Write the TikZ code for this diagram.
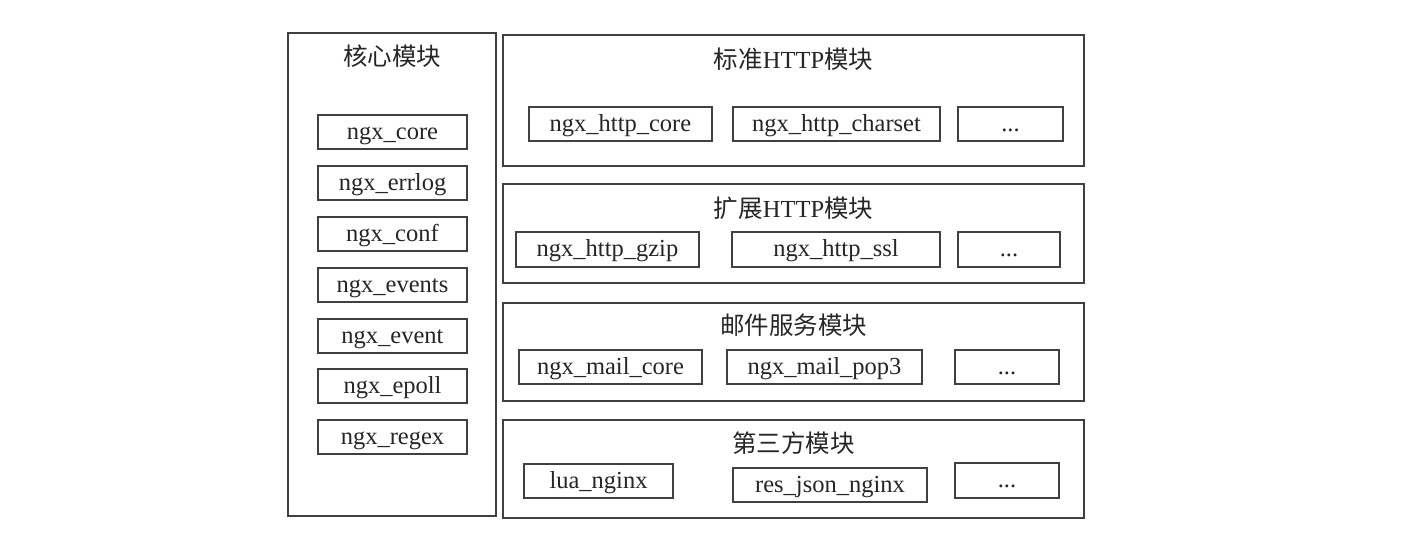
\documentclass[tikz,border=0pt]{standalone}
\usepackage{fontspec}
\setmainfont{Liberation Serif}
\newfontfamily\cjk{Noto Sans CJK SC}
\begin{document}
\begin{tikzpicture}[x=1pt,y=-1pt,
  every node/.style={font=\fontsize{24.5}{28}\selectfont, text=black!85, inner sep=0pt},
  outer/.style={draw=black!75, line width=1.3pt},
  ibox/.style={draw=black!75, line width=1.3pt, text height=20pt, text depth=6pt},
  ttl/.style={text height=20pt, text depth=6pt}]
\useasboundingbox (0,0) rectangle (1414,538);
\fill[white] (0,0) rectangle (1414,538);

% core modules
\node[outer, minimum width=208pt, minimum height=483pt] (core) at (392,274.5) {};
\node[ttl] (coret) at (392,58) {\cjk 核心模块};
\node[ibox, minimum width=149pt, minimum height=34pt] (c1) at (392.5,132) {ngx\_core};
\node[ibox, minimum width=149pt, minimum height=34pt] (c2) at (392.5,183) {ngx\_errlog};
\node[ibox, minimum width=149pt, minimum height=34pt] (c3) at (392.5,234) {ngx\_conf};
\node[ibox, minimum width=149pt, minimum height=34pt] (c4) at (392.5,285) {ngx\_events};
\node[ibox, minimum width=149pt, minimum height=34pt] (c5) at (392.5,336) {ngx\_event};
\node[ibox, minimum width=149pt, minimum height=34pt] (c6) at (392.5,386) {ngx\_epoll};
\node[ibox, minimum width=149pt, minimum height=34pt] (c7) at (392.5,437) {ngx\_regex};

% standard HTTP
\node[outer, minimum width=581pt, minimum height=131pt] (std) at (793.5,100.5) {};
\node[ttl] (stdt) at (793.5,61) {{\cjk 标准}HTTP{\cjk 模块}};
\node[ibox, minimum width=183pt, minimum height=34pt] (s1) at (620.5,124) {ngx\_http\_core};
\node[ibox, minimum width=207pt, minimum height=34pt] (s2) at (836.5,124) {ngx\_http\_charset};
\node[ibox, minimum width=105pt, minimum height=34pt] (s3) at (1010.5,124) {...};

% extended HTTP
\node[outer, minimum width=581pt, minimum height=99pt] (ext) at (793.5,233.5) {};
\node[ttl] (extt) at (793.5,210) {{\cjk 扩展}HTTP{\cjk 模块}};
\node[ibox, minimum width=183pt, minimum height=35pt] (e1) at (607.5,249.5) {ngx\_http\_gzip};
\node[ibox, minimum width=208pt, minimum height=35pt] (e2) at (836,249.5) {ngx\_http\_ssl};
\node[ibox, minimum width=102pt, minimum height=35pt] (e3) at (1009,249.5) {...};

% mail
\node[outer, minimum width=581pt, minimum height=98pt] (mail) at (793.5,352) {};
\node[ttl] (mailt) at (793.5,327) {\cjk 邮件服务模块};
\node[ibox, minimum width=183pt, minimum height=34pt] (m1) at (610.5,367) {ngx\_mail\_core};
\node[ibox, minimum width=195pt, minimum height=34pt] (m2) at (824.5,367) {ngx\_mail\_pop3};
\node[ibox, minimum width=104pt, minimum height=34pt] (m3) at (1007,367) {...};

% third party
\node[outer, minimum width=581pt, minimum height=98pt] (third) at (793.5,469) {};
\node[ttl] (thirdt) at (793.5,445) {\cjk 第三方模块};
\node[ibox, minimum width=149pt, minimum height=34pt] (t1) at (598.5,481) {lua\_nginx};
\node[ibox, minimum width=194pt, minimum height=34pt] (t2) at (830,485) {res\_json\_nginx};
\node[ibox, minimum width=104pt, minimum height=35pt] (t3) at (1007,480.5) {...};
\end{tikzpicture}
\end{document}
